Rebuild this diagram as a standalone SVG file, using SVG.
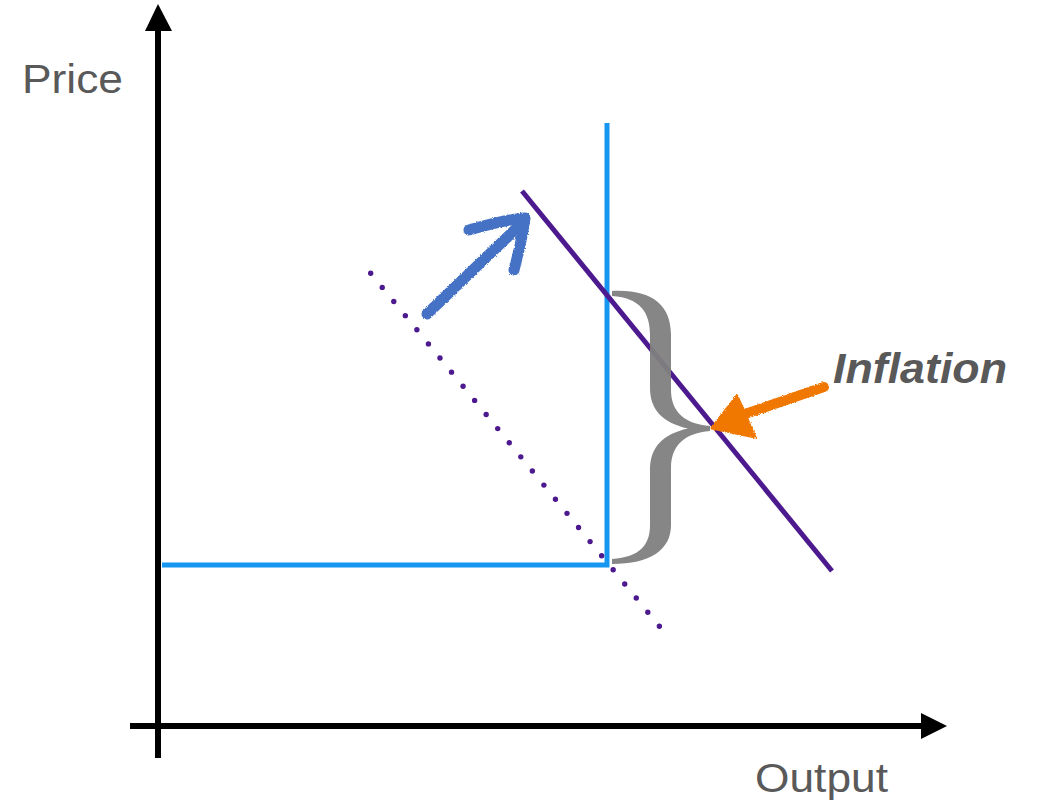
<svg xmlns="http://www.w3.org/2000/svg" width="1040" height="805" viewBox="0 0 1040 805">
  <style>
    .axis { stroke: #000; stroke-width: 6; fill: none; }
    .label { font-family: "Liberation Sans", Arial, sans-serif; fill: #595959; font-size: 41px; }
    .blue { stroke: #1596f0; stroke-width: 5; fill: none; }
    .purple { stroke: #4c1a8e; stroke-width: 5; fill: none; }
  </style>
  <defs>
    <filter id="rough" x="-20%" y="-20%" width="140%" height="140%">
      <feTurbulence type="fractalNoise" baseFrequency="0.9" numOctaves="2" seed="3" result="n"/>
      <feDisplacementMap in="SourceGraphic" in2="n" scale="3" xChannelSelector="R" yChannelSelector="G"/>
    </filter>
  </defs>
  <rect width="1040" height="805" fill="#fff"/>

  <g id="axes">
    <line class="axis" x1="158" y1="758" x2="158" y2="28"/>
    <polygon points="158,4 145,31 172,31" fill="#000"/>
    <line class="axis" x1="130" y1="726" x2="923" y2="726"/>
    <polygon points="947,726 921,713 921,739" fill="#000"/>
  </g>

  <g id="label-price"><text class="label" x="22" y="93" textLength="101" lengthAdjust="spacingAndGlyphs">Price</text></g>
  <g id="label-output"><text class="label" x="755" y="792" textLength="133" lengthAdjust="spacingAndGlyphs">Output</text></g>

  <g id="connectors">
    <polyline class="blue" points="162,565 607,565 607,123"/>
    <line class="purple" x1="522" y1="191" x2="832" y2="571"/>
    <line x1="370.7" y1="273.3" x2="660.6" y2="627.8" stroke="#4c1a8e" stroke-width="5.4" stroke-linecap="round" stroke-dasharray="0 18.24"/>
  </g>

  <g id="brace">
    <path fill="#7f7f7f" fill-opacity="0.95" d="M612,291 C652,289 671,305 671,335 L671,390 C671,412 685,424 710,426 L710,431 C685,433 671,445 671,468 L671,525 C671,550 650,564 612,564 L612,559 C640,557 650,545 650,525 L650,470 C650,447 663,434 688,428.5 C663,423 650,410 650,388 L650,335 C650,312 640,298 612,296 Z"/>
  </g>

  <g id="blue-arrow" filter="url(#rough)" stroke="#4472c4" stroke-width="11" stroke-linecap="round" stroke-linejoin="round" fill="none">
    <path d="M427,314 L523,222"/>
    <path d="M469,230 C490,224 510,219 525,218 C522,240 518,255 514,270"/>
  </g>

  <g id="orange-arrow" filter="url(#rough)">
    <path d="M824,387 L745,414" stroke="#f07800" stroke-width="10" stroke-linecap="round" fill="none"/>
    <polygon points="712,428 737,396 755,437" fill="#f07800" stroke="#f07800" stroke-width="3" stroke-linejoin="round"/>
  </g>

  <g id="label-inflation">
    <text x="833" y="383" font-family="Liberation Sans, Arial, sans-serif" font-weight="bold" font-style="italic" font-size="42" fill="#595959" textLength="174" lengthAdjust="spacingAndGlyphs">Inflation</text>
  </g>
</svg>
